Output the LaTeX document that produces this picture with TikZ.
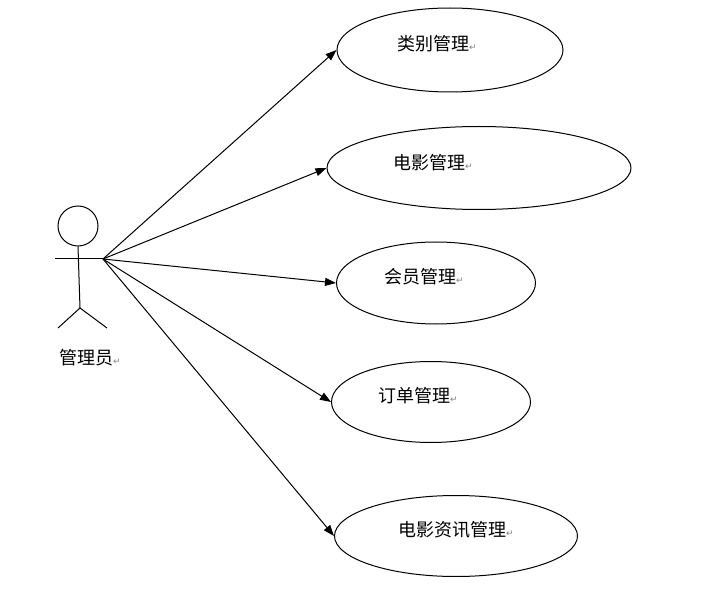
\documentclass[tikz,border=0pt]{standalone}
\usepackage{fontspec}
\newfontfamily\cjk{Noto Sans CJK SC}
\newfontfamily\djfont{DejaVu Sans}
\usetikzlibrary{shapes.geometric,arrows.meta}
\newcommand{\ret}{{\djfont\fontsize{9}{9}\selectfont\textcolor{gray}{↵}}}
\begin{document}
\begin{tikzpicture}[x=1pt,y=-1pt,
  uc/.style={draw,ellipse,line width=1pt,inner sep=0pt},
  txt/.style={font=\cjk\fontsize{18}{20}\selectfont,inner sep=0pt},
  conn/.style={line width=1pt,-{Triangle[length=11pt,width=8pt]}},
  lim/.style={line width=1pt}]
\useasboundingbox (0,0) rectangle (724,591);
\node[uc,minimum width=226pt,minimum height=84pt] (u1) at (450,50) {};
\node[uc,minimum width=304pt,minimum height=83pt] (u2) at (479,168) {};
\node[uc,minimum width=199pt,minimum height=82pt] (u3) at (436,283) {};
\node[uc,minimum width=199pt,minimum height=81pt] (u4) at (431,402) {};
\node[uc,minimum width=243pt,minimum height=81pt] (u5) at (456,536) {};
\node[txt] (t1) at (437,44) {类别管理\ret};
\node[txt] (t2) at (433,163) {电影管理\ret};
\node[txt] (t3) at (424,277) {会员管理\ret};
\node[txt] (t4) at (418,396) {订单管理\ret};
\node[txt] (t5) at (456,530) {电影资讯管理\ret};
% actor
\node[draw,circle,line width=1pt,minimum size=40pt,inner sep=0pt] (head) at (78,226) {};
\coordinate (hand) at (103,259);
\coordinate (hip) at (80,308);
\coordinate (armL) at (55,259);
\coordinate (legL) at (58,328);
\coordinate (legR) at (107,328);
\draw[lim] (head.south) -- (hip);
\draw[lim] (armL) -- (hand);
\draw[lim] (legL) -- (hip) -- (legR);
\node[txt] (actor) at (90,358) {管理员\ret};
\draw[conn] (hand) -- (u1.west);
\draw[conn] (hand) -- (u2.west);
\draw[conn] (hand) -- (u3.west);
\draw[conn] (hand) -- (u4.west);
\draw[conn] (hand) -- (u5.west);
\end{tikzpicture}
\end{document}
